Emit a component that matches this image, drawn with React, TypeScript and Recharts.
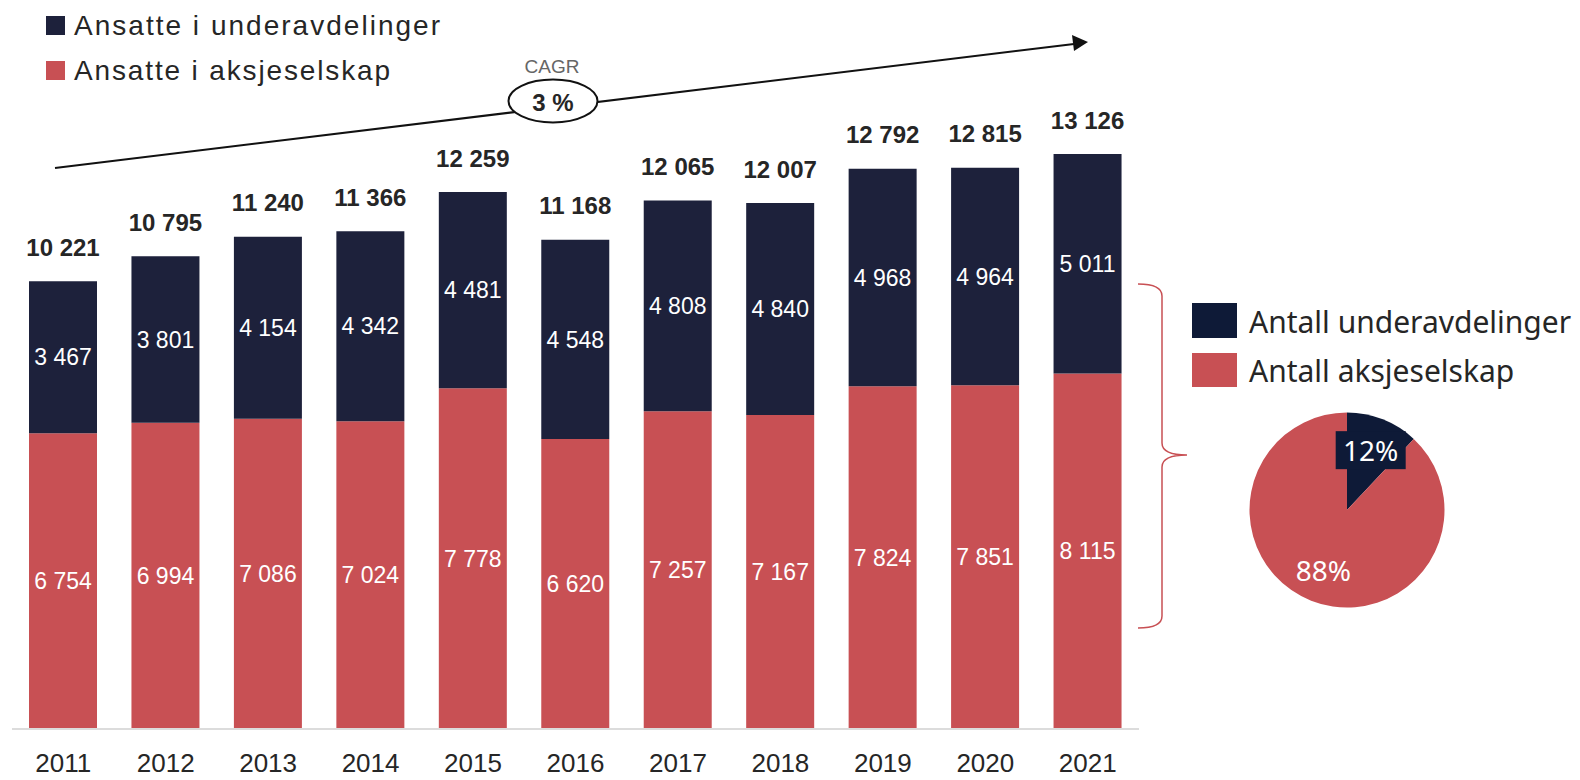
import React from 'react';
import { BarChart, Bar, XAxis, YAxis, LabelList, PieChart, Pie, Cell } from 'recharts';

const years = ['2011', '2012', '2013', '2014', '2015', '2016', '2017', '2018', '2019', '2020', '2021'];
const aksjeselskap = [6754, 6994, 7086, 7024, 7778, 6620, 7257, 7167, 7824, 7851, 8115];
const underavdelinger = [3467, 3801, 4154, 4342, 4481, 4548, 4808, 4840, 4968, 4964, 5011];

const pieNames = ['Antall underavdelinger', 'Antall aksjeselskap'];
const pieValues = [12, 88];

const NAVY = '#1d213b';
const PIE_NAVY = '#0e1a37';
const RED = '#c85054';
const TEXT = '#262626';

const data = years.map((year, i) => ({
    year,
    aksjeselskap: aksjeselskap[i],
    underavdelinger: underavdelinger[i],
    total: aksjeselskap[i] + underavdelinger[i],
}));

const pieData = pieNames.map((name, i) => ({ name, value: pieValues[i] }));

const fmt = (v: number) => String(v).replace(/\B(?=(\d{3})+(?!\d))/g, ' ');

const YearTick = (props: any) => {
    const { x, y, payload } = props;
    return (
        <text x={x} y={y + 43} textAnchor="middle" fontSize={26} fill={TEXT} fontFamily="'Liberation Sans', Arial, sans-serif">
            {payload.value}
        </text>
    );
};

const TotalLabel = (props: any) => {
    const { x, y, width, value } = props;
    return (
        <text
            x={x + width / 2}
            y={y - 34}
            textAnchor="middle"
            dominantBaseline="central"
            fontSize={24}
            fontWeight="bold"
            fill={TEXT}
            fontFamily="'Liberation Sans', Arial, sans-serif"
        >
            {fmt(value)}
        </text>
    );
};

const RADIAN = Math.PI / 180;

const PieLabel = (props: any) => {
    const { cx, cy, midAngle, outerRadius, percent, index } = props;
    const r = outerRadius * 0.66;
    const lx = cx + r * Math.cos(-midAngle * RADIAN);
    const ly = cy + r * Math.sin(-midAngle * RADIAN);
    const label = `${Math.round(percent * 100)}%`;
    return (
        <g>
            {index === 0 && <rect x={lx - 35} y={ly - 19} width={70} height={38} fill={PIE_NAVY} />}
            <text
                x={lx}
                y={ly}
                textAnchor="middle"
                dominantBaseline="central"
                fontSize={28}
                fill="#fff"
                fontFamily="'Noto Sans', sans-serif"
            >
                {label}
            </text>
        </g>
    );
};

export default function App() {
    const font = "'Liberation Sans', Arial, sans-serif";
    return (
        <div style={{ position: 'absolute', left: 0, top: 0, width: 1580, height: 780, background: '#fff' }}>
            <BarChart
                width={1580}
                height={780}
                data={data}
                margin={{ top: 72, right: 441, left: 12, bottom: 0 }}
                barSize={68}
            >
                <XAxis
                    dataKey="year"
                    height={51}
                    axisLine={{ stroke: '#dcdcdc', strokeWidth: 2 }}
                    tickLine={false}
                    tickSize={0}
                    tickMargin={0}
                    tick={<YearTick />}
                    interval={0}
                />
                <YAxis hide domain={[0, 15000]} />
                <Bar dataKey="aksjeselskap" name="Ansatte i aksjeselskap" stackId="a" fill={RED} isAnimationActive={false}>
                    <LabelList
                        dataKey="aksjeselskap"
                        position="center"
                        fill="#fff"
                        fontSize={23}
                        fontFamily={font}
                        formatter={(v: any) => fmt(v)}
                    />
                </Bar>
                <Bar dataKey="underavdelinger" name="Ansatte i underavdelinger" stackId="a" fill={NAVY} isAnimationActive={false}>
                    <LabelList
                        dataKey="underavdelinger"
                        position="center"
                        fill="#fff"
                        fontSize={23}
                        fontFamily={font}
                        formatter={(v: any) => fmt(v)}
                    />
                    <LabelList dataKey="total" content={<TotalLabel />} />
                </Bar>
            </BarChart>

            <div style={{ position: 'absolute', left: 1237, top: 400 }}>
                <PieChart width={220} height={220} margin={{ top: 0, right: 0, bottom: 0, left: 0 }}>
                    <Pie
                        data={pieData}
                        dataKey="value"
                        cx={110}
                        cy={110}
                        outerRadius={97.5}
                        startAngle={90}
                        endAngle={-270}
                        stroke="none"
                        label={<PieLabel />}
                        labelLine={false}
                        isAnimationActive={false}
                    >
                        <Cell fill={PIE_NAVY} />
                        <Cell fill={RED} />
                    </Pie>
                </PieChart>
            </div>

            <svg
                width={1580}
                height={780}
                style={{ position: 'absolute', left: 0, top: 0, pointerEvents: 'none' }}
            >
                {/* top legend */}
                <rect x={46} y={16} width={19} height={19} fill={NAVY} />
                <text x={74} y={25.5} dominantBaseline="central" fontSize={28} fill={TEXT} fontFamily={font} textLength={366} lengthAdjust="spacing">
                    Ansatte i underavdelinger
                </text>
                <rect x={46} y={61} width={19} height={19} fill={RED} />
                <text x={74} y={70.5} dominantBaseline="central" fontSize={28} fill={TEXT} fontFamily={font} textLength={316} lengthAdjust="spacing">
                    Ansatte i aksjeselskap
                </text>

                {/* CAGR arrow */}
                <line x1={55} y1={168} x2={1074} y2={44} stroke="#111" strokeWidth={2} />
                <polygon points="1088,42 1072,35 1074,51" fill="#111" />
                <ellipse cx={553} cy={101} rx={44.5} ry={21.5} fill="#fff" stroke="#111" strokeWidth={2} />
                <text x={552} y={66} textAnchor="middle" dominantBaseline="central" fontSize={19} fill="#666" fontFamily={font}>
                    CAGR
                </text>
                <text x={553} y={102} textAnchor="middle" dominantBaseline="central" fontSize={24} fontWeight="bold" fill={TEXT} fontFamily={font}>
                    3 %
                </text>

                {/* brace */}
                <path
                    d="M1138,284 Q1162,284 1162,296 L1162,443 Q1162,455 1187,455 Q1162,455 1162,467 L1162,616 Q1162,628 1138,628"
                    fill="none"
                    stroke={RED}
                    strokeWidth={1.5}
                />

                {/* pie legend */}
                <rect x={1192} y={303} width={45} height={35} fill={PIE_NAVY} />
                <text x={1249} y={321} dominantBaseline="central" fontSize={30} fill={TEXT} fontFamily="'Noto Sans', sans-serif">
                    {pieNames[0]}
                </text>
                <rect x={1192} y={353} width={45} height={34} fill={RED} />
                <text x={1249} y={370} dominantBaseline="central" fontSize={30} fill={TEXT} fontFamily="'Noto Sans', sans-serif">
                    {pieNames[1]}
                </text>
            </svg>
        </div>
    );
}
